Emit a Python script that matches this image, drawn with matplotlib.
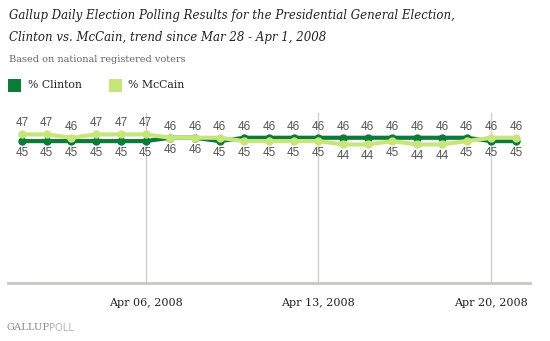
import datetime
import matplotlib
matplotlib.use('Agg')
import matplotlib.pyplot as plt
import matplotlib.dates as mdates
from matplotlib.patches import Rectangle

# daily tracking, Apr 1 - Apr 21, 2008
start_day = datetime.date(2008, 4, 1)
n_days = 21
clinton = [45, 45, 45, 45, 45, 45, 46, 46, 45, 46, 46, 46, 46, 46, 46, 46, 46, 46, 46, 45, 45]
mccain = [47, 47, 46, 47, 47, 47, 46, 46, 46, 45, 45, 45, 45, 44, 44, 45, 44, 44, 45, 46, 46]
grid_days = [datetime.date(2008, 4, 6), datetime.date(2008, 4, 13), datetime.date(2008, 4, 20)]

CLINTON_COLOR = '#0B7B3A'
MCCAIN_COLOR = '#C6E57A'
TEXT_COLOR = '#222222'
LABEL_COLOR = '#555555'
GRID_COLOR = '#CFCFCF'

W, H = 550, 341
dates = [start_day + datetime.timedelta(days=i) for i in range(n_days)]
xs = mdates.date2num(dates)

fig = plt.figure(figsize=(W / 100, H / 100), dpi=100)
fig.patch.set_facecolor('white')


def fx(px):
    return px / W


def fy(py):
    return 1 - py / H


ax = fig.add_axes([fx(8), fy(283), fx(530) - fx(8), fy(113) - fy(283)])
ax.set_xlim(xs[0] - 0.57, xs[-1] + 0.57)
ax.set_ylim(2.6, 53.4)

for d in grid_days:
    ax.axvline(mdates.date2num(d), color=GRID_COLOR, lw=1, zorder=0)

ax.plot(xs, clinton, color=CLINTON_COLOR, lw=3, marker='o', ms=5, zorder=3)
ax.plot(xs, mccain, color=MCCAIN_COLOR, lw=3, marker='o', ms=5, zorder=4)

# value labels: higher number above the lines, lower number below
for x, c, m in zip(xs, clinton, mccain):
    hi, lo = max(c, m), min(c, m)
    ax.annotate(str(hi), (x, hi), xytext=(0, 11), textcoords='offset pixels',
                ha='center', va='center', fontsize=8.5, color=LABEL_COLOR,
                family='Liberation Sans')
    ax.annotate(str(lo), (x, lo), xytext=(0, -12), textcoords='offset pixels',
                ha='center', va='center', fontsize=8.5, color=LABEL_COLOR,
                family='Liberation Sans')

for side in ['top', 'left', 'right']:
    ax.spines[side].set_visible(False)
ax.spines['bottom'].set_color('#C8C8C2')
ax.spines['bottom'].set_linewidth(2)
ax.set_yticks([])
ax.set_xticks([mdates.date2num(d) for d in grid_days])
ax.set_xticklabels([d.strftime('%b %d, %Y') for d in grid_days],
                   family='DejaVu Serif', fontsize=8, color=TEXT_COLOR)
ax.tick_params(axis='x', length=0, pad=11)
ax.set_facecolor('white')

# titles
fig.text(fx(9), fy(15), 'Gallup Daily Election Polling Results for the Presidential General Election,',
         family='DejaVu Serif', style='italic', fontsize=8.5, color=TEXT_COLOR, va='center')
fig.text(fx(9), fy(37), 'Clinton vs. McCain, trend since Mar 28 - Apr 1, 2008',
         family='DejaVu Serif', style='italic', fontsize=8.5, color=TEXT_COLOR, va='center')
fig.text(fx(9), fy(59), 'Based on national registered voters',
         family='DejaVu Serif', fontsize=7.0, color='#666666', va='center')

# legend
fig.patches.append(Rectangle((fx(8), fy(92)), fx(13), 13 / H, transform=fig.transFigure,
                             facecolor=CLINTON_COLOR, edgecolor='none'))
fig.text(fx(28), fy(85.5), '% Clinton', family='DejaVu Serif', fontsize=7.8,
         color=TEXT_COLOR, va='center')
fig.patches.append(Rectangle((fx(109), fy(92)), fx(13), 13 / H, transform=fig.transFigure,
                             facecolor=MCCAIN_COLOR, edgecolor='none'))
fig.text(fx(128), fy(85.5), '% McCain', family='DejaVu Serif', fontsize=7.8,
         color=TEXT_COLOR, va='center')

# logo
fig.text(fx(6), fy(328), 'GALLUP', family='DejaVu Serif', fontsize=7.2,
         color='#8A8A8A', va='center')
fig.text(fx(49), fy(328), 'POLL', family='DejaVu Sans', fontsize=7.2,
         color='#B5B5B5', va='center')

plt.savefig('out.png', dpi=100)
